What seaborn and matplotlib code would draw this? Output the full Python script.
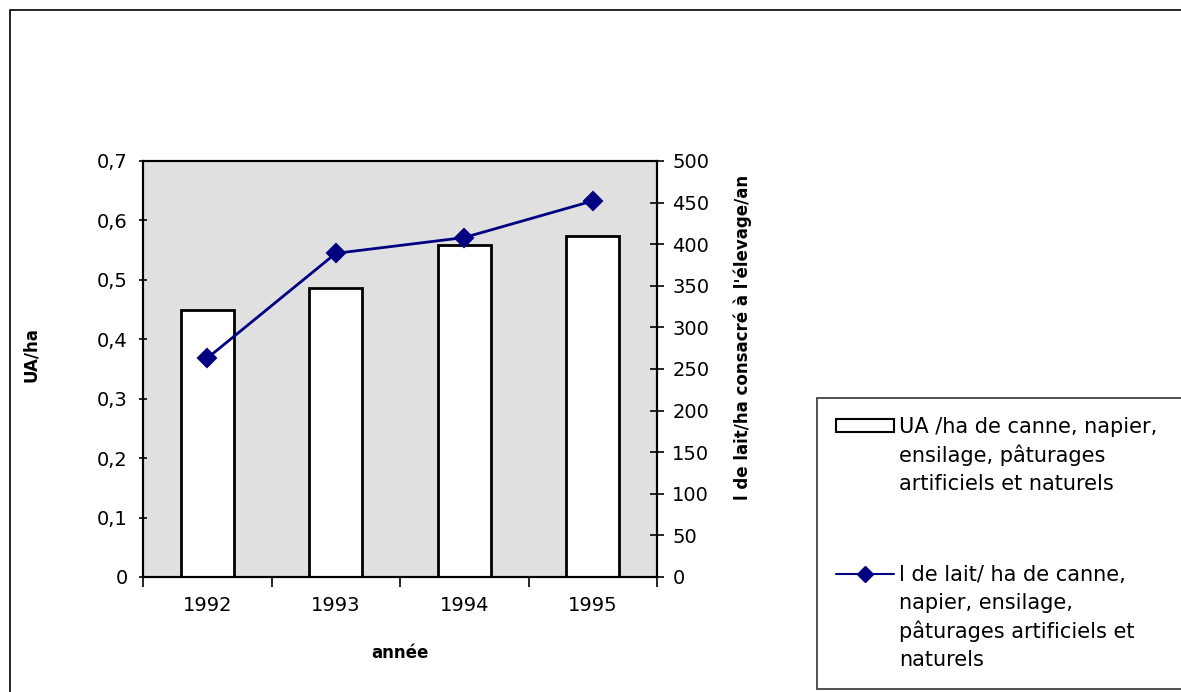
import matplotlib
matplotlib.use("Agg")
import matplotlib.pyplot as plt
import seaborn as sns
from matplotlib.patches import Patch, Rectangle
from matplotlib.lines import Line2D
from matplotlib.ticker import FuncFormatter, FixedLocator, MultipleLocator

# données
years = ["1992", "1993", "1994", "1995"]
ua_ha = [0.45, 0.487, 0.558, 0.574]
lait_ha = [263, 389, 408, 452]

label_bar = ["UA /ha de canne, napier,", "ensilage, pâturages", "artificiels et naturels"]
label_line = ["l de lait/ ha de canne,", "napier, ensilage,", "pâturages artificiels et", "naturels"]

sns.set_theme(style="white")
plt.rcParams['font.family'] = ['DejaVu Sans']
plt.rcParams['text.color'] = 'black'

W, H = 1181, 692
fig = plt.figure(figsize=(W / 100, H / 100), dpi=100)
ax = fig.add_axes([143 / W, 115 / H, 514 / W, 416 / H])
ax.set_facecolor('#e0e0e0')

# barres UA/ha
sns.barplot(x=years, y=ua_ha, ax=ax, color='white', saturation=1,
            edgecolor='black', linewidth=2, width=0.41)
ax.set_xlim(-0.5, 3.5)
ax.set_ylim(0, 0.7)
ax.yaxis.set_major_locator(MultipleLocator(0.1))
ax.yaxis.set_major_formatter(FuncFormatter(
    lambda v, p: "0" if abs(v) < 1e-9 else f"{v:.1f}".replace(".", ",")))

# courbe lait
ax2 = ax.twinx()
sns.pointplot(x=years, y=lait_ha, ax=ax2, color='#000080', markers='D',
              markersize=9, linewidth=2, errorbar=None)
ax2.set_xlim(-0.5, 3.5)
ax2.set_ylim(0, 500)
ax2.yaxis.set_major_locator(MultipleLocator(50))

# ticks
ax.tick_params(axis='x', which='major', length=0, pad=14, labelsize=14, labelcolor='black')
ax.xaxis.set_minor_locator(FixedLocator([-0.5, 0.5, 1.5, 2.5, 3.5]))
ax.tick_params(axis='x', which='minor', bottom=True, length=7, width=1.2,
               direction='out', color='black')
ax.tick_params(axis='y', left=True, length=6, width=1.2, direction='inout',
               pad=8, labelsize=14, color='black', labelcolor='black')
ax2.tick_params(axis='y', right=True, length=10, width=1.2, direction='inout',
                pad=6, labelsize=14, color='black', labelcolor='black')

for a in (ax, ax2):
    for s in a.spines.values():
        s.set_visible(True)
        s.set_color('black')
        s.set_linewidth(1.5)

# titres des axes
ax.set_xlabel("année", fontsize=12, fontweight='bold', color='black')
ax.xaxis.set_label_coords(0.5, -0.16)
ax.set_ylabel("UA/ha", fontsize=12, fontweight='bold', color='black')
ax.yaxis.set_label_coords(-0.20, 0.534)
ax2.set_ylabel("l de lait/ha consacré à l'élevage/an", fontsize=12,
               fontweight='bold', color='black')
ax2.yaxis.set_label_coords(1.148, 0.577)

# légende
bar_h = Patch(facecolor='white', edgecolor='black', linewidth=1.5)
line_h = Line2D([], [], color='#000080', marker='D', markersize=8, linewidth=1.5)
blank = Line2D([], [], linestyle='none')

handles = [bar_h] + [blank] * (len(label_bar) - 1) + [blank, blank] + \
          [line_h] + [blank] * (len(label_line) - 1)
labels = label_bar + [" ", " "] + label_line

leg = fig.legend(handles, labels, loc='upper left',
                 bbox_to_anchor=(817 / W, 1 - 398 / H, 0.4, 0.0), mode='expand',
                 borderaxespad=0, fontsize=15, frameon=True, fancybox=False,
                 handlelength=2.8, handleheight=0.6, handletextpad=0.25,
                 labelspacing=0.375, borderpad=0.9)
leg.get_frame().set_edgecolor('black')
leg.get_frame().set_linewidth(1.2)
for t in leg.get_texts():
    t.set_color('black')
    if t.get_text() == " ":
        t.set_fontsize(17)

# cadre extérieur
fig.add_artist(Rectangle((10 / W, -0.1), 1.2, 1.1 - 10 / H, transform=fig.transFigure,
                         fill=False, edgecolor='black', linewidth=1.2))

fig.savefig("out.png", dpi=100)
